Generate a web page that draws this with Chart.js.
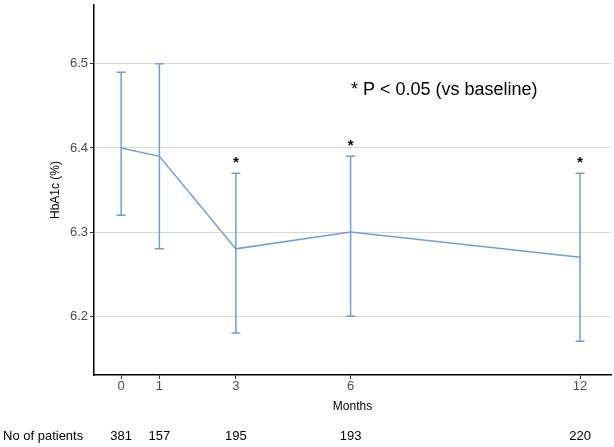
<!DOCTYPE html>
<html>
<head>
<meta charset="utf-8">
<script src="https://cdn.jsdelivr.net/npm/chart.js@4"></script>
<style>
html,body{margin:0;padding:0;background:#fff;}
#wrap{width:614px;height:447px;position:relative;}
</style>
</head>
<body>
<div id="wrap"><canvas id="c" width="614" height="447"></canvas></div>
<script>
const months = [0, 1, 3, 6, 12];
const meanHbA1c = [6.40, 6.39, 6.28, 6.30, 6.27];
const lowerCI = [6.32, 6.28, 6.18, 6.20, 6.17];
const upperCI = [6.49, 6.50, 6.37, 6.39, 6.37];
const significant = [false, false, true, true, true];
const patients = [381, 157, 195, 193, 220];
const yTicks = [6.2, 6.3, 6.4, 6.5];
const xTicks = [0, 1, 3, 6, 12];

const FONT = "'Liberation Sans', Arial, sans-serif";
const LINE = '#6f9edc';

const extrasPlugin = {
  id: 'extras',
  afterDatasetsDraw(chart) {
    const ctx = chart.ctx;
    const xs = chart.scales.x, ys = chart.scales.y;
    ctx.save();
    // error bars
    ctx.strokeStyle = LINE;
    ctx.lineWidth = 1.5;
    months.forEach((m, i) => {
      const px = xs.getPixelForValue(m);
      const yl = ys.getPixelForValue(lowerCI[i]);
      const yu = ys.getPixelForValue(upperCI[i]);
      ctx.beginPath();
      ctx.moveTo(px, yl); ctx.lineTo(px, yu);
      ctx.moveTo(px - 4.5, yl); ctx.lineTo(px + 4.5, yl);
      ctx.moveTo(px - 4.5, yu); ctx.lineTo(px + 4.5, yu);
      ctx.stroke();
      if (significant[i]) {
        ctx.fillStyle = '#000';
        ctx.font = 'bold 15px ' + FONT;
        ctx.textAlign = 'center';
        ctx.textBaseline = 'alphabetic';
        ctx.fillText('*', px, yu - 6);
      }
    });
    // annotation
    ctx.fillStyle = '#000';
    ctx.font = '18px ' + FONT;
    ctx.textAlign = 'left';
    ctx.textBaseline = 'middle';
    ctx.fillText('* P < 0.05 (vs baseline)', 351, 90);
    // axis titles
    ctx.font = '12px ' + FONT;
    ctx.textAlign = 'center';
    ctx.fillText('Months', (chart.chartArea.left + chart.chartArea.right) / 2, 407);
    ctx.save();
    ctx.translate(56, 190);
    ctx.rotate(-Math.PI / 2);
    ctx.fillText('HbA1c (%)', 0, 0);
    ctx.restore();
    // patients row
    ctx.font = '13px ' + FONT;
    ctx.textAlign = 'left';
    ctx.fillText('No of patients', 3, 436);
    ctx.textAlign = 'center';
    months.forEach((m, i) => {
      ctx.fillText(String(patients[i]), xs.getPixelForValue(m), 436);
    });
    ctx.restore();
  }
};

new Chart(document.getElementById('c'), {
  type: 'line',
  data: {
    datasets: [{
      data: months.map((m, i) => ({x: m, y: meanHbA1c[i]})),
      borderColor: LINE,
      borderWidth: 1.5,
      pointRadius: 0,
      fill: false,
      tension: 0
    }]
  },
  options: {
    responsive: false,
    animation: false,
    devicePixelRatio: 1,
    layout: {padding: {top: 5, right: 3, left: 0, bottom: 0}},
    plugins: {legend: {display: false}, tooltip: {enabled: false}},
    scales: {
      x: {
        type: 'linear',
        min: -0.71,
        max: 12.81,
        afterBuildTicks(s) { s.ticks = xTicks.map(v => ({value: v})); },
        afterFit(s) { s.height = 72; s.paddingLeft = 0; s.paddingRight = 0; },
        grid: {display: true, drawOnChartArea: false, tickLength: 4, tickColor: '#333', tickWidth: 1},
        border: {display: true, color: '#000', width: 1.5},
        ticks: {color: '#4d4d4d', font: {family: FONT, size: 13}, padding: 0, maxRotation: 0, autoSkip: false}
      },
      y: {
        type: 'linear',
        min: 6.13,
        max: 6.57,
        afterBuildTicks(s) { s.ticks = yTicks.map(v => ({value: v})); },
        afterFit(s) { s.width = 94; s.paddingTop = 0; s.paddingBottom = 0; },
        grid: {display: true, color: '#d9d9d9', lineWidth: 1, tickLength: 4, tickColor: '#333', tickWidth: 1},
        border: {display: true, color: '#000', width: 1.5},
        ticks: {color: '#4d4d4d', font: {family: FONT, size: 13}, padding: 2, callback: v => v.toFixed(1)}
      }
    }
  },
  plugins: [extrasPlugin]
});
</script>
</body>
</html>
